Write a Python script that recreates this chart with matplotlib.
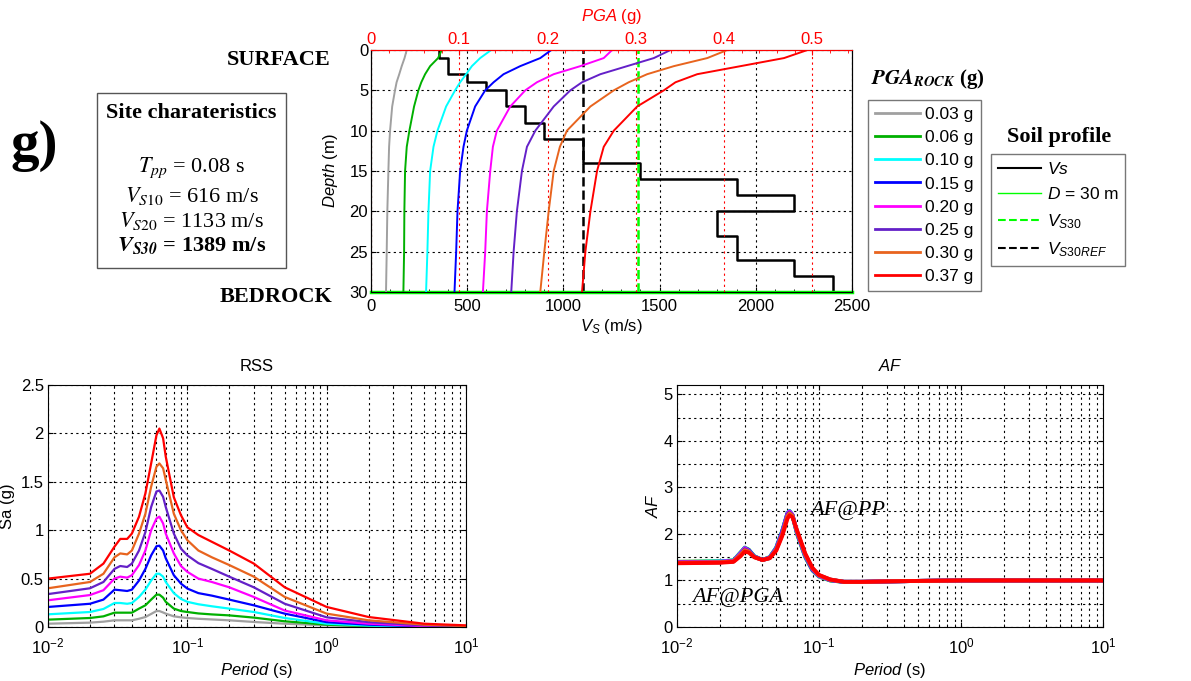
import matplotlib.pyplot as plt
from matplotlib.patches import Rectangle
from matplotlib.lines import Line2D
from matplotlib.ticker import MultipleLocator, FormatStrFormatter, LogLocator

# ================= Fonts / style =================
plt.rcParams['font.family'] = ['Liberation Sans', 'DejaVu Sans']
plt.rcParams['mathtext.fontset'] = 'custom'
plt.rcParams['mathtext.rm'] = 'Liberation Sans'
plt.rcParams['mathtext.it'] = 'Liberation Sans:italic'
plt.rcParams['mathtext.bf'] = 'Liberation Sans:bold'
plt.rcParams['xtick.direction'] = 'in'
plt.rcParams['ytick.direction'] = 'in'
plt.rcParams['font.size'] = 12

SERIF = 'Liberation Serif'

# ================= Data =================
PGA_LABELS = ['0.03 g', '0.06 g', '0.10 g', '0.15 g', '0.20 g', '0.25 g', '0.30 g', '0.37 g']
COLORS = ['#a0a0a0', '#00b000', '#00ffff', '#0000ff', '#ff00ff', '#6420c8', '#e8641e', '#ff0000']

# soil profile (layer top, layer bottom, Vs)
LAYER_TOP = [0, 1, 3, 4, 5, 7, 9, 11, 14, 16, 18, 20, 23, 26, 28]
LAYER_BOT = [1, 3, 4, 5, 7, 9, 11, 14, 16, 18, 20, 23, 26, 28, 30]
VS = [355, 400, 500, 600, 700, 800, 900, 1100, 1400, 1900, 2200, 1800, 1900, 2200, 2400]
VS30 = 1389
VS30_REF = 1100
D_MAX = 30

# PGA with depth for each input motion
DEPTH = [0, 1, 2, 3, 4, 5, 7, 10, 12, 15, 20, 25, 30]
PGA_003 = [0.0405, 0.038, 0.0348, 0.032, 0.029, 0.0272, 0.024, 0.0216, 0.0205, 0.0197, 0.0185, 0.0178, 0.017]
PGA_006 = [0.0802, 0.076, 0.067, 0.0613, 0.057, 0.0537, 0.0488, 0.0435, 0.0405, 0.0386, 0.0378, 0.0375, 0.0367]
PGA_010 = [0.1362, 0.1237, 0.1143, 0.1078, 0.101, 0.0953, 0.0851, 0.0753, 0.0708, 0.067, 0.0651, 0.0639, 0.0624]
PGA_015 = [0.2043, 0.1918, 0.1691, 0.1502, 0.1389, 0.1294, 0.118, 0.1086, 0.1048, 0.101, 0.098, 0.0965, 0.0946]
PGA_020 = [0.2732, 0.2637, 0.2372, 0.207, 0.188, 0.1748, 0.1578, 0.1426, 0.1381, 0.1351, 0.1313, 0.1294, 0.1268]
PGA_025 = [0.3394, 0.3205, 0.2902, 0.2599, 0.2391, 0.2259, 0.207, 0.1862, 0.1767, 0.171, 0.1653, 0.1616, 0.1589]
PGA_030 = [0.4037, 0.381, 0.3432, 0.3129, 0.292, 0.2751, 0.2486, 0.222, 0.214, 0.207, 0.2013, 0.1964, 0.1918]
PGA_037 = [0.4945, 0.468, 0.4188, 0.3696, 0.345, 0.3318, 0.3016, 0.2751, 0.2637, 0.2561, 0.2486, 0.2429, 0.2391]
PGA_PROFILES = [PGA_003, PGA_006, PGA_010, PGA_015, PGA_020, PGA_025, PGA_030, PGA_037]

# response spectra at surface (Sa in g)
PERIOD = [0.01, 0.02, 0.025, 0.03, 0.033, 0.037, 0.04, 0.045, 0.05, 0.055, 0.06, 0.063, 0.067,
          0.07, 0.08, 0.09, 0.1, 0.12, 0.15, 0.2, 0.3, 0.5, 1, 2, 5, 10]
SA_003 = [0.034, 0.045, 0.055, 0.069, 0.069, 0.069, 0.069, 0.085, 0.103, 0.135, 0.165, 0.165, 0.15,
          0.138, 0.11, 0.1, 0.093, 0.085, 0.078, 0.069, 0.052, 0.034, 0.017, 0.007, 0.003, 0.002]
SA_006 = [0.076, 0.093, 0.11, 0.148, 0.148, 0.148, 0.148, 0.19, 0.224, 0.283, 0.334, 0.334, 0.303,
          0.26, 0.19, 0.165, 0.155, 0.14, 0.13, 0.12, 0.097, 0.059, 0.024, 0.01, 0.003, 0.002]
SA_010 = [0.131, 0.155, 0.186, 0.248, 0.248, 0.24, 0.248, 0.31, 0.386, 0.48, 0.55, 0.55, 0.52,
          0.465, 0.35, 0.29, 0.26, 0.235, 0.214, 0.19, 0.155, 0.093, 0.034, 0.014, 0.003, 0.002]
SA_015 = [0.207, 0.24, 0.283, 0.386, 0.38, 0.372, 0.386, 0.48, 0.60, 0.74, 0.834, 0.84, 0.79,
          0.71, 0.535, 0.448, 0.397, 0.35, 0.324, 0.283, 0.224, 0.138, 0.05, 0.024, 0.007, 0.003]
SA_020 = [0.276, 0.33, 0.38, 0.50, 0.52, 0.51, 0.535, 0.64, 0.79, 1.0, 1.12, 1.14, 1.07,
          0.965, 0.76, 0.63, 0.57, 0.50, 0.465, 0.41, 0.31, 0.17, 0.069, 0.034, 0.01, 0.003]
SA_025 = [0.34, 0.40, 0.465, 0.60, 0.63, 0.62, 0.655, 0.79, 0.98, 1.24, 1.40, 1.41, 1.345,
          1.24, 0.965, 0.81, 0.74, 0.66, 0.60, 0.52, 0.41, 0.24, 0.10, 0.05, 0.017, 0.007]
SA_030 = [0.40, 0.465, 0.55, 0.72, 0.76, 0.75, 0.79, 0.965, 1.17, 1.45, 1.655, 1.69, 1.64,
          1.52, 1.17, 1.0, 0.897, 0.79, 0.72, 0.64, 0.52, 0.31, 0.138, 0.069, 0.024, 0.01]
SA_037 = [0.50, 0.55, 0.655, 0.83, 0.91, 0.91, 0.965, 1.14, 1.38, 1.69, 1.98, 2.05, 1.95,
          1.76, 1.34, 1.155, 1.03, 0.95, 0.88, 0.79, 0.655, 0.41, 0.207, 0.103, 0.034, 0.017]
SA_CURVES = [SA_003, SA_006, SA_010, SA_015, SA_020, SA_025, SA_030, SA_037]

# amplification factor
AF_T = [0.01, 0.02, 0.025, 0.028, 0.03, 0.032, 0.035, 0.04, 0.045, 0.05, 0.055, 0.06, 0.062,
        0.065, 0.07, 0.08, 0.09, 0.1, 0.12, 0.15, 0.2, 0.3, 0.5, 1, 10]
AF_003 = [1.40, 1.41, 1.43, 1.60, 1.71, 1.66, 1.52, 1.44, 1.50, 1.71, 2.06, 2.44, 2.49,
          2.40, 2.00, 1.50, 1.21, 1.08, 1.00, 0.97, 0.97, 0.98, 0.99, 1.00, 1.00]
AF_006 = [1.40, 1.41, 1.43, 1.60, 1.70, 1.66, 1.52, 1.44, 1.50, 1.70, 2.05, 2.44, 2.49,
          2.40, 2.01, 1.51, 1.22, 1.09, 1.00, 0.97, 0.97, 0.98, 0.99, 1.00, 1.00]
AF_010 = [1.39, 1.41, 1.43, 1.59, 1.70, 1.65, 1.52, 1.44, 1.50, 1.70, 2.05, 2.45, 2.49,
          2.41, 2.02, 1.52, 1.23, 1.09, 1.01, 0.97, 0.97, 0.98, 0.99, 1.00, 1.00]
AF_015 = [1.39, 1.40, 1.42, 1.58, 1.69, 1.65, 1.51, 1.44, 1.49, 1.69, 2.04, 2.44, 2.48,
          2.41, 2.03, 1.53, 1.23, 1.10, 1.01, 0.97, 0.97, 0.98, 0.99, 1.00, 1.00]
AF_020 = [1.39, 1.40, 1.42, 1.58, 1.69, 1.64, 1.51, 1.44, 1.49, 1.68, 2.02, 2.43, 2.48,
          2.41, 2.04, 1.54, 1.24, 1.10, 1.01, 0.97, 0.97, 0.98, 0.99, 1.00, 1.00]
AF_025 = [1.38, 1.39, 1.41, 1.56, 1.67, 1.63, 1.51, 1.44, 1.48, 1.67, 2.00, 2.41, 2.46,
          2.40, 2.05, 1.55, 1.25, 1.11, 1.02, 0.97, 0.97, 0.98, 0.99, 1.00, 1.00]
AF_030 = [1.38, 1.39, 1.41, 1.55, 1.65, 1.62, 1.50, 1.44, 1.48, 1.66, 1.98, 2.38, 2.44,
          2.39, 2.06, 1.56, 1.26, 1.11, 1.02, 0.97, 0.97, 0.98, 0.99, 1.00, 1.00]
AF_037 = [1.37, 1.38, 1.40, 1.52, 1.62, 1.60, 1.50, 1.44, 1.48, 1.64, 1.95, 2.33, 2.40,
          2.36, 2.08, 1.58, 1.27, 1.12, 1.02, 0.97, 0.97, 0.98, 0.99, 1.00, 1.00]
AF_CURVES = [AF_003, AF_006, AF_010, AF_015, AF_020, AF_025, AF_030, AF_037]

W, H = 1191, 681
fig = plt.figure(figsize=(W / 100, H / 100), dpi=100)


def fx(px):
    return px / W


def fy(py):
    return 1 - py / H


# ================= Top panel: soil profile =================
ax = fig.add_axes([fx(371), fy(292), fx(852 - 371), (292 - 50) / H])
ax.set_xlim(0, 2500)
ax.set_ylim(D_MAX, 0)
ax.xaxis.set_major_locator(MultipleLocator(500))
ax.xaxis.set_minor_locator(MultipleLocator(100))
ax.yaxis.set_major_locator(MultipleLocator(5))
ax.grid(True, which='major', color='black', linestyle=(0, (2, 3)), linewidth=0.8)
ax.tick_params(labelsize=12, pad=2)
ax.tick_params(axis='x', pad=5)
ax.set_xlabel('$V_S$ (m/s)', fontsize=12, labelpad=2)
ax.set_ylabel('$\\it{Depth}$ (m)', fontsize=12, labelpad=7)

xs, ys = [], []
for top, bot, v in zip(LAYER_TOP, LAYER_BOT, VS):
    xs += [v, v]
    ys += [top, bot]
ax.plot(xs, ys, color='black', linewidth=1.8, zorder=4)
ax.axvline(VS30_REF, color='black', linestyle='--', linewidth=1.8, zorder=4)
ax.axvline(VS30, color='#00ff00', linestyle='--', linewidth=1.8, zorder=4)
ax.axhline(D_MAX, color='#00ff00', linewidth=2.5, clip_on=False, zorder=5)

# PGA axis on top
axp = ax.twiny()
axp.set_xlim(0, 0.545)
axp.xaxis.set_major_locator(MultipleLocator(0.1))
axp.xaxis.set_minor_locator(MultipleLocator(0.02))
axp.xaxis.set_major_formatter(FormatStrFormatter('%g'))
axp.tick_params(axis='x', which='both', colors='red', labelsize=12, pad=2)
axp.spines['top'].set_color('red')
axp.grid(True, axis='x', color='red', linestyle=(0, (2, 3)), linewidth=0.8)
axp.set_xlabel('$\\it{PGA}$ (g)', color='red', fontsize=12, labelpad=8)

for prof, c in zip(PGA_PROFILES, COLORS):
    axp.plot(prof, DEPTH, color=c, linewidth=1.4)

# legends of the top panel
pga_handles = [Line2D([], [], color=c, linewidth=2) for c in COLORS]
fig.legend(pga_handles, PGA_LABELS, loc='upper left', bbox_to_anchor=(fx(868), fy(100)),
           bbox_transform=fig.transFigure, borderaxespad=0, fontsize=12.5, frameon=True,
           fancybox=False, edgecolor='#555555', handlelength=2.6, handletextpad=0.3,
           labelspacing=0.46, borderpad=0.4)
fig.text(fx(928), fy(79), '$\\mathbfit{PGA}_{\\mathbfit{ROCK}}$ (g)', family=SERIF,
         fontweight='bold', fontsize=15, math_fontfamily='stix', ha='center', va='center')

soil_handles = [Line2D([], [], color='black', linewidth=1.5),
                Line2D([], [], color='#00ff00', linewidth=1),
                Line2D([], [], color='#00ff00', linewidth=1.5, linestyle='--'),
                Line2D([], [], color='black', linewidth=1.5, linestyle='--')]
soil_labels = ['$Vs$', '$D$ = 30 m', '$V_{S30}$', '$V_{S30REF}$']
fig.legend(soil_handles, soil_labels, loc='upper left', bbox_to_anchor=(fx(991), fy(154)),
           bbox_transform=fig.transFigure, borderaxespad=0, fontsize=12.5, frameon=True,
           fancybox=False, edgecolor='#555555', handlelength=2.5, handletextpad=0.3,
           labelspacing=0.55, borderpad=0.4)
fig.text(fx(1059), fy(137), 'Soil profile', family=SERIF, fontweight='bold', fontsize=16,
         ha='center', va='center')

# left-side annotations
fig.text(fx(34), fy(146), 'g)', family=SERIF, fontweight='bold', fontsize=41,
         ha='center', va='center')
fig.text(fx(331), fy(60), 'SURFACE', family=SERIF, fontweight='bold', fontsize=16,
         ha='right', va='center')
fig.text(fx(332), fy(297), 'BEDROCK', family=SERIF, fontweight='bold', fontsize=16,
         ha='right', va='center')

fig.patches.append(Rectangle((fx(97), fy(268)), fx(286 - 97), (268 - 93) / H,
                             transform=fig.transFigure, fill=False, edgecolor='#555555',
                             linewidth=1))
cx = fx(191.5)
fig.text(cx, fy(113), 'Site charateristics', family=SERIF, fontweight='bold', fontsize=16,
         ha='center', va='center')
fig.text(cx, fy(168), '$T_{pp}$ = 0.08 s', family=SERIF, fontsize=16,
         math_fontfamily='stix', ha='center', va='center')
fig.text(cx, fy(196), '$V_{S10}$ = 616 m/s', family=SERIF, fontsize=16,
         math_fontfamily='stix', ha='center', va='center')
fig.text(cx, fy(221), '$V_{S20}$ = 1133 m/s', family=SERIF, fontsize=16,
         math_fontfamily='stix', ha='center', va='center')
fig.text(cx, fy(246), '$\\mathbfit{V}_{\\mathbfit{S30}}$ = 1389 m/s', family=SERIF,
         fontweight='bold', fontsize=16, math_fontfamily='stix', ha='center', va='center')


# ================= Bottom panels =================
def log_axes(a):
    a.set_xscale('log')
    a.set_xlim(0.01, 10)
    a.xaxis.set_minor_locator(LogLocator(base=10, subs=range(2, 10)))
    a.grid(True, which='both', color='black', linestyle=(0, (2, 3)), linewidth=0.8)
    a.tick_params(which='both', top=True, right=True, labelsize=12, pad=3)
    a.tick_params(axis='x', which='both', pad=7)
    a.set_xlabel('$\\it{Period}$ (s)', fontsize=12, labelpad=3)


axr = fig.add_axes([fx(48), fy(627), fx(466 - 48), (627 - 385) / H])
log_axes(axr)
axr.set_ylim(0, 2.5)
axr.yaxis.set_major_locator(MultipleLocator(0.5))
axr.yaxis.set_major_formatter(FormatStrFormatter('%g'))
axr.set_ylabel('Sa (g)', fontsize=12, labelpad=4)
axr.set_title('RSS', fontsize=12, pad=10)
for sa, c in zip(SA_CURVES, COLORS):
    axr.plot(PERIOD, sa, color=c, linewidth=1.6)

axa = fig.add_axes([fx(677), fy(627), fx(1103 - 677), (627 - 385) / H])
log_axes(axa)
axa.set_ylim(0, 5.2)
axa.yaxis.set_major_locator(MultipleLocator(1))
axa.yaxis.set_minor_locator(MultipleLocator(0.5))
axa.set_ylabel('$\\it{AF}$', fontsize=12, labelpad=2)
axa.set_title('$\\it{AF}$', fontsize=12, pad=10)
for af, c in zip(AF_CURVES, COLORS):
    axa.plot(AF_T, af, color=c, linewidth=2.8)
axa.text(0.087, 2.5, 'AF@PP', family=SERIF, style='italic', fontsize=16,
         ha='left', va='center')
axa.text(0.0128, 0.63, 'AF@PGA', family=SERIF, style='italic', fontsize=16,
         ha='left', va='center')

fig.savefig('out.png', dpi=100)
